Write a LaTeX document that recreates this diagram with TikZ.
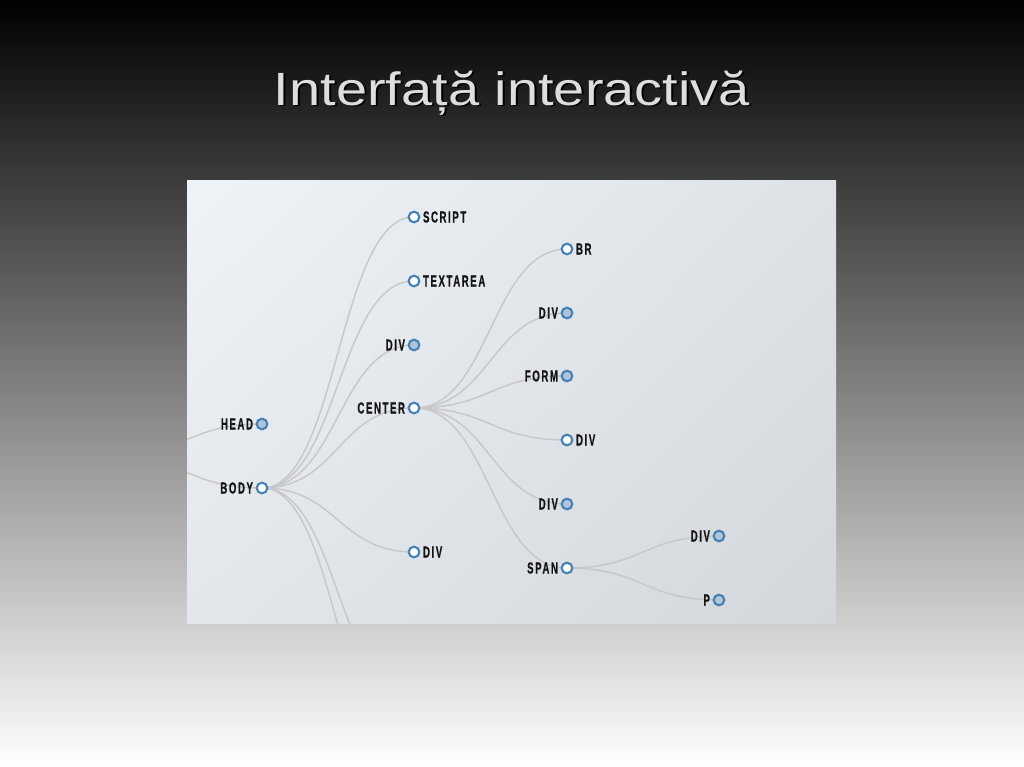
\documentclass[tikz,border=0pt]{standalone}
\usepackage{fontspec}
\setmainfont{Liberation Sans}
\newfontfamily\labfont{Liberation Sans}[FakeStretch=0.6,LetterSpace=10,FakeBold=0.6]
\newfontfamily\titlefnt{Liberation Sans}[FakeStretch=1.2]
\usetikzlibrary{calc,shadings}
\definecolor{steel}{HTML}{4682B4}
\definecolor{lsteel}{HTML}{B0C4DE}
\definecolor{linkc}{HTML}{C8C8C8}
\definecolor{pa}{HTML}{EEF3F8}
\definecolor{pb}{HTML}{DEE2E6}
\definecolor{pc}{HTML}{E3E7EB}
\definecolor{pd}{HTML}{D3D7DB}
\definecolor{titlec}{HTML}{DEDEDE}
\pgfdeclarelayer{back}
\pgfdeclarelayer{mid}
\pgfsetlayers{back,mid,main}
\newcommand\lnk[2]{\draw[link] (#1) .. controls +(76,0) and +(-76,0) .. (#2);}
\begin{document}
\begin{tikzpicture}[x=0.75pt,y=-0.75pt,
  dot/.style={circle,draw=steel,line width=1.6pt,minimum size=8pt,inner sep=0pt},
  open/.style={dot,fill=white},
  shut/.style={dot,fill=lsteel},
  lab/.style={font={\labfont\bfseries\fontsize{12}{12}\selectfont},text=black!92,inner sep=0pt},
  labl/.style={lab,anchor=east},
  labr/.style={lab,anchor=west},
  link/.style={draw=linkc,line width=1.1pt},
  titlefont/.style={font={\titlefnt\fontsize{35}{40}\selectfont},anchor=base,inner sep=0pt}]
\useasboundingbox (0,0) rectangle (1024,767);
\begin{pgfonlayer}{back}
\shade[top color=black,bottom color=white] (0,0) rectangle (1024,767);
\shade[upper left=pa,upper right=pb,lower left=pc,lower right=pd] (187,180) rectangle (836,623);
\end{pgfonlayer}
% title
\node[titlefont,text=black] (tshadow) at (514,107) {Interfață interactivă};
\node[titlefont,text=titlec] (title) at (512,105) {Interfață interactivă};
% tree nodes
\node[shut] (head) at (262,424) {};
\node[open] (body) at (262,488) {};
\node[open] (script) at (414,217) {};
\node[open] (textarea) at (414,281) {};
\node[shut] (diva) at (414,345) {};
\node[open] (center) at (414,408) {};
\node[open] (divb) at (414,552) {};
\node[open] (br) at (567,249) {};
\node[shut] (divc) at (567,313) {};
\node[shut] (form) at (567,376) {};
\node[open] (divd) at (567,440) {};
\node[shut] (dive) at (567,504) {};
\node[open] (span) at (567,568) {};
\node[shut] (divf) at (719,536) {};
\node[shut] (p) at (719,600) {};
\coordinate (root) at (110,456);
\coordinate (hida) at (414,697);
\coordinate (hidb) at (414,763);
% labels
\node[labl] (thead) at ([xshift=-6.6pt]head.center) {HEAD};
\node[labl] (tbody) at ([xshift=-6.6pt]body.center) {BODY};
\node[labr] (tscript) at ([xshift=6.6pt]script.center) {SCRIPT};
\node[labr] (ttextarea) at ([xshift=6.6pt]textarea.center) {TEXTAREA};
\node[labl] (tdiva) at ([xshift=-6.6pt]diva.center) {DIV};
\node[labl] (tcenter) at ([xshift=-6.6pt]center.center) {CENTER};
\node[labr] (tdivb) at ([xshift=6.6pt]divb.center) {DIV};
\node[labr] (tbr) at ([xshift=6.6pt]br.center) {BR};
\node[labl] (tdivc) at ([xshift=-6.6pt]divc.center) {DIV};
\node[labl] (tform) at ([xshift=-6.6pt]form.center) {FORM};
\node[labr] (tdivd) at ([xshift=6.6pt]divd.center) {DIV};
\node[labl] (tdive) at ([xshift=-6.6pt]dive.center) {DIV};
\node[labl] (tspan) at ([xshift=-6.6pt]span.center) {SPAN};
\node[labl] (tdivf) at ([xshift=-6.6pt]divf.center) {DIV};
\node[labl] (tp) at ([xshift=-6.6pt]p.center) {P};
% links
\begin{pgfonlayer}{mid}
\begin{scope}
\clip (187,180) rectangle (836,623);
\lnk{root}{head.center}
\lnk{root}{body.center}
\lnk{body.center}{script.center}
\lnk{body.center}{textarea.center}
\lnk{body.center}{diva.center}
\lnk{body.center}{center.center}
\lnk{body.center}{divb.center}
\lnk{body.center}{hida}
\lnk{body.center}{hidb}
\lnk{center.center}{br.center}
\lnk{center.center}{divc.center}
\lnk{center.center}{form.center}
\lnk{center.center}{divd.center}
\lnk{center.center}{dive.center}
\lnk{center.center}{span.center}
\lnk{span.center}{divf.center}
\lnk{span.center}{p.center}
\end{scope}
\end{pgfonlayer}
\end{tikzpicture}
\end{document}
